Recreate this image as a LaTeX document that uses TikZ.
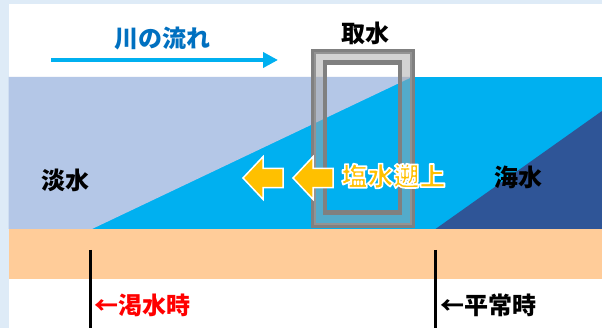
\documentclass[tikz,border=0pt]{standalone}
\usepackage{fontspec}
\newfontfamily\jp{Noto Sans CJK JP}
\usetikzlibrary{arrows.meta,positioning}
\definecolor{river}{HTML}{00B0F0}
\definecolor{fresh}{HTML}{B4C7E7}
\definecolor{sea}{HTML}{2F5597}
\definecolor{sand}{HTML}{FFCC99}
\definecolor{edge}{HTML}{DEEBF7}
\definecolor{flowtext}{HTML}{0070C0}
\definecolor{salt}{HTML}{FFC000}
\definecolor{pipegray}{RGB}{167,167,167}
% white outlined glyphs (fill and stroke render mode)
\newcommand\outlined[1]{\special{pdf:literal direct 1 1 1 RG 1.6 w 1 j 2 Tr}#1\special{pdf:literal direct 0 Tr}}
\tikzset{label/.style={
            font=\jp\bfseries\fontsize{24}{24}\selectfont,
            inner sep=0pt
        },
        pipe/.style={
            draw=gray,
            line width=3pt,
            inner sep=0pt
        },
        marker/.style={
            line width=2.7pt
        },
        backflow/.style={
            fill=salt,
            draw=white,
            line width=1.5pt,
            line join=miter
        }
    }
\begin{document}
\begin{tikzpicture}[x=1pt,y=-1pt]
        \useasboundingbox (0,0) rectangle (602,328);
        \fill[edge] (0,0) rectangle (602,328);
        \fill[white] (8.5,4) rectangle (602,328);
        % river bed and water
        \fill[sand] (8.5,229) rectangle (602,279);
        \fill[river] (8.5,77) rectangle (602,229);
        \fill[fresh] (8.5,77) -- (412,77) -- (92,229) -- (8.5,229) -- cycle;
        \fill[sea] (435.5,229) -- (602,111) -- (602,229) -- cycle;
        % direction of the river
        \coordinate (flow start) at (51,60);
        \coordinate (flow end) at (278,60);
        \draw[river, line width=4pt, -{Triangle[length=15pt,width=15pt]}] (flow start) -- (flow end);
        \node[label, text=flowtext] (flow) at (162.5,38.5) {川の流れ};
        % intake
        \node[pipe, minimum width=97.6pt, minimum height=172.6pt] (intake) at (362.8,138.7) {};
        \node[pipe, minimum width=73.4pt, minimum height=148.6pt] (well) at (362.5,137.5) {};
        \fill[pipegray, opacity=0.5, even odd rule] (intake.north west) rectangle (intake.south east)
            (well.north west) rectangle (well.south east);
        \draw[pipe] (intake.north west) rectangle (intake.south east);
        \draw[pipe] (well.north west) rectangle (well.south east);
        \node[label] (intake label) at (365,33) {取水};
        % labels in the water
        \node[label] (fresh label) at (65,180) {淡水};
        \node[label] (sea label) at (518,177) {海水};
        \foreach \tip in {243,293}
            \draw[backflow] (\tip,178) -- ++(20,-21.3) -- ++(0,11.6) -- ++(20,0) -- ++(0,19.4)
                -- ++(-20,0) -- ++(0,11.6) -- cycle;
        \node[label, text=salt, font=\jp\bfseries\fontsize{26}{26}\selectfont] (intrusion) at (393.5,176) {\outlined{塩水遡上}};
        % reach of the salt wedge
        \coordinate (dry top) at (90.3,250);
        \coordinate (dry bottom) at (90.3,328);
        \coordinate (normal top) at (435.7,250);
        \coordinate (normal bottom) at (435.7,328);
        \draw[marker] (dry top) -- (dry bottom);
        \draw[marker] (normal top) -- (normal bottom);
        \node[label, text=red, anchor=west] (dry) at (94.5,305) {←渇水時};
        \node[label, anchor=west] (normal) at (440,305) {←平常時};
    \end{tikzpicture}
\end{document}
